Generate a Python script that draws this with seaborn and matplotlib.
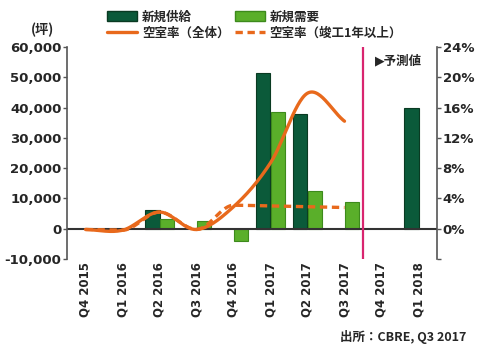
import numpy as np
import pandas as pd
import matplotlib
matplotlib.use("Agg")
import matplotlib.pyplot as plt
import seaborn as sns
from matplotlib.patches import Patch
from matplotlib.lines import Line2D

quarters = ["Q4 2015", "Q1 2016", "Q2 2016", "Q3 2016", "Q4 2016",
            "Q1 2017", "Q2 2017", "Q3 2017", "Q4 2017", "Q1 2018"]
supply = [np.nan, np.nan, 6300, np.nan, np.nan, 51400, 37900, np.nan, np.nan, 39700]
demand = [np.nan, np.nan, 3200, 2700, -4200, 38700, 12600, 8800, np.nan, np.nan]
vac_all = [-0.1, -0.2, 2.2, -0.1, 2.9, 8.7, 17.9, 14.2]
vac_old = [-0.1, -0.2, 2.2, -0.1, 3.1, 3.0, 2.9, 2.8]
left_ticks = [-10000, 0, 10000, 20000, 30000, 40000, 50000, 60000]
right_ticks = [-4, 0, 4, 8, 12, 16, 20, 24]

C_DARK = "#0b5a3a"
C_LIGHT = "#5aaf2a"
C_ORANGE = "#e8691c"
C_PINK = "#d9256f"

sns.set_theme(style="white")
plt.rcParams["font.family"] = ["Noto Sans CJK JP", "DejaVu Sans"]

df = pd.DataFrame({
    "quarter": quarters * 2,
    "value": supply + demand,
    "series": ["新規供給"] * len(quarters) + ["新規需要"] * len(quarters),
})

fig = plt.figure(figsize=(5, 3.5), dpi=100)
ax = fig.add_axes([67 / 500, 1 - 259 / 350, 370 / 500, 212 / 350])

sns.barplot(data=df, x="quarter", y="value", hue="series", order=quarters,
            hue_order=["新規供給", "新規需要"],
            palette={"新規供給": C_DARK, "新規需要": C_LIGHT},
            width=0.76, ax=ax, legend=False, saturation=1)
for p in ax.patches:
    fc = p.get_facecolor()
    p.set_edgecolor("#0a3a22" if abs(fc[1] - 0.35) < 0.05 else "#3d8a1c")
    p.set_linewidth(0.8)

ax.set_xlim(-0.5, 9.5)
ax.set_ylim(-10000, 60000)
ax.set_yticks(left_ticks)
ax.set_yticklabels([f"{v:,}" for v in left_ticks], fontsize=9.5, fontweight="bold",
                   family=["DejaVu Sans"])
ax.set_xticks(range(len(quarters)))
ax.set_xticklabels(quarters, rotation=90, fontsize=8.5, fontweight="bold",
                   family=["DejaVu Sans"])
ax.set_xlabel("")
ax.set_ylabel("")
ax.tick_params(axis="y", length=3, width=1, color="#555555", pad=1, direction="out", left=True)
ax.tick_params(axis="x", length=0, pad=2)
for s in ["top", "bottom", "right"]:
    ax.spines[s].set_visible(False)
ax.spines["left"].set_color("#555555")
ax.spines["left"].set_linewidth(1.2)
ax.axhline(0, color="#333333", lw=1.5, zorder=1)
ax.axvline(7.5, color=C_PINK, lw=1.6, zorder=3)

ax2 = ax.twinx()
ax2.set_ylim(-4, 24)
ax2.set_yticks(right_ticks)
ax2.set_yticklabels(["" if v < 0 else f"{v}%" for v in right_ticks], fontsize=9.5,
                    fontweight="bold", family=["DejaVu Sans"])
ax2.tick_params(axis="y", length=3, width=1, color="#555555", pad=1, direction="out", right=True)
for s in ["top", "bottom", "left"]:
    ax2.spines[s].set_visible(False)
ax2.spines["right"].set_color("#555555")
ax2.spines["right"].set_linewidth(1.2)
ax2.set_xlim(-0.5, 9.5)


def hermite(p, m, n=30):
    k = len(p)
    xs, ys = [], []
    for i in range(k - 1):
        t = np.linspace(0, 1, n, endpoint=(i == k - 2))
        h00 = 2 * t**3 - 3 * t**2 + 1
        h10 = t**3 - 2 * t**2 + t
        h01 = -2 * t**3 + 3 * t**2
        h11 = t**3 - t**2
        ys.append(h00 * p[i] + h10 * m[i] + h01 * p[i + 1] + h11 * m[i + 1])
        xs.append(i + t)
    return np.concatenate(xs), np.concatenate(ys)


def smooth(vals):
    p = np.asarray(vals, dtype=float)
    m = np.zeros(len(p))
    m[1:-1] = (p[2:] - p[:-2]) / 2
    m[0] = p[1] - p[0]
    m[-1] = p[-1] - p[-2]
    return hermite(p, m)


def smooth_monotone(vals):
    p = np.asarray(vals, dtype=float)
    d = np.diff(p)
    m = np.zeros(len(p))
    for i in range(1, len(p) - 1):
        if d[i - 1] * d[i] > 0:
            m[i] = 2 / (1 / d[i - 1] + 1 / d[i])
    m[0] = d[0]
    m[-1] = d[-1]
    return hermite(p, m)


xo, yo = smooth_monotone(vac_old)
ax2.plot(xo, yo, color=C_ORANGE, lw=2.4, ls=(0, (2.2, 1.4)), zorder=4)
xa, ya = smooth(vac_all)
ax2.plot(xa, ya, color=C_ORANGE, lw=2.4, zorder=5)

handles = [Patch(facecolor=C_DARK, edgecolor="#0a3a22"),
           Line2D([], [], color=C_ORANGE, lw=2.4),
           Patch(facecolor=C_LIGHT, edgecolor="#3d8a1c"),
           Line2D([], [], color=C_ORANGE, lw=2.4, ls=(0, (2.2, 1.4)))]
labels = ["新規供給", "空室率（全体）", "新規需要", "空室率（竣工1年以上）"]
fig.legend(handles, labels, ncol=2, loc="upper left",
           bbox_to_anchor=(96 / 500, 1 + 1 / 350), frameon=False,
           handlelength=2.4, handleheight=0.9, handletextpad=0.4,
           columnspacing=0.4, labelspacing=0.25,
           prop={"weight": "bold", "size": 9})

fig.text(42 / 500, 1 - 30 / 350, "(坪)", ha="center", va="center",
         fontsize=9.5, fontweight="bold")
fig.text(375 / 500, 1 - 61 / 350, "▶予測値", ha="left", va="center",
         fontsize=9, fontweight="bold", family=["DejaVu Sans", "Noto Sans CJK JP"])
fig.text(466 / 500, 1 - 337 / 350, "出所：CBRE, Q3 2017", ha="right", va="center",
         fontsize=9, fontweight="bold")

fig.savefig("out.png", dpi=100)
